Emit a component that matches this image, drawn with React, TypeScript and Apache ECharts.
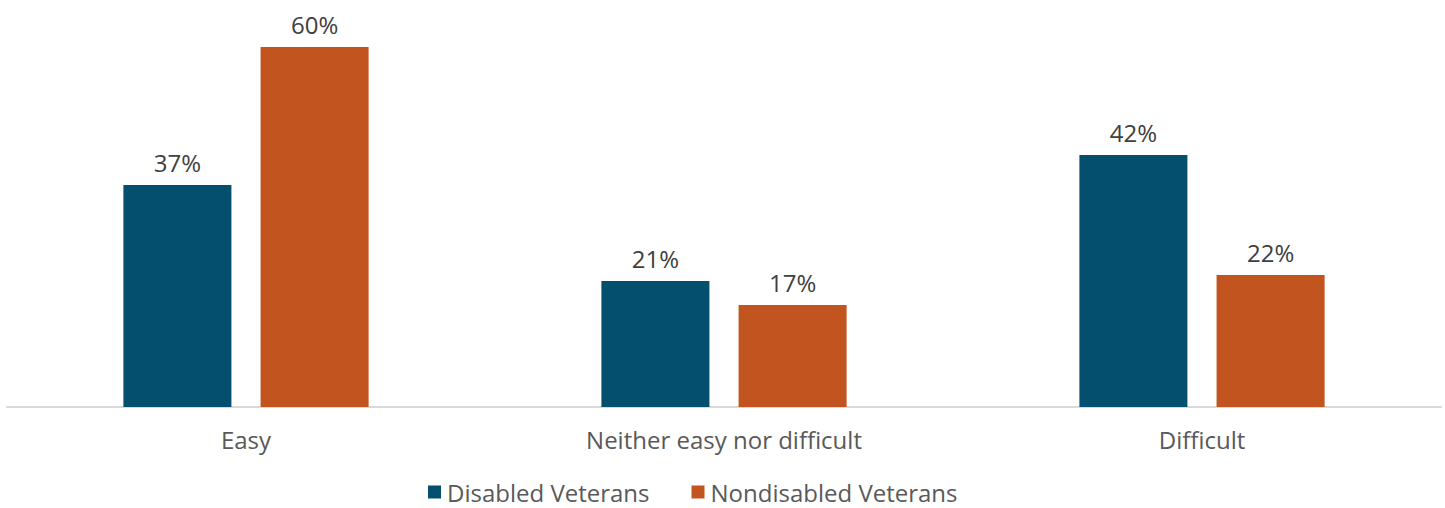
import React, { useEffect, useRef } from "react";
import * as echarts from "echarts";

const categories = ["Easy", "Neither easy nor difficult", "Difficult"];
const disabled = [37, 21, 42];
const nondisabled = [60, 17, 22];
const seriesNames = ["Disabled Veterans", "Nondisabled Veterans"];

const FONT = "Open Sans";

export default function App() {
  const ref = useRef<HTMLDivElement>(null);
  useEffect(() => {
    const chart = echarts.init(ref.current!, null, { renderer: "svg" });
    const label = {
      show: true,
      position: "top",
      distance: 11,
      formatter: "{c}%",
      color: "#404040",
      fontSize: 24,
      fontFamily: FONT,
    };
    chart.setOption({
      animation: false,
      grid: { left: 7, right: 4, top: 47, bottom: 101, containLabel: false },
      legend: {
        top: 479,
        left: 428,
        padding: 0,
        itemWidth: 13,
        itemHeight: 13,
        itemGap: 42,
        icon: "rect",
        textStyle: { color: "#595959", fontSize: 24, lineHeight: 26, fontFamily: FONT, padding: [0, 0, 0, 1] },
      },
      xAxis: {
        type: "category",
        data: categories,
        axisLine: { lineStyle: { color: "#d9d9d9", width: 2 } },
        axisTick: { show: false },
        axisLabel: { color: "#595959", fontSize: 24, fontFamily: FONT, margin: 20 },
      },
      yAxis: {
        type: "value",
        min: 0,
        max: 60,
        show: false,
        splitLine: { show: false },
      },
      series: [
        {
          name: seriesNames[0],
          type: "bar",
          data: disabled,
          itemStyle: { color: "#054F6E" },
          barWidth: "22.6%",
          barGap: "27%",
          label,
        },
        {
          name: seriesNames[1],
          type: "bar",
          data: nondisabled,
          itemStyle: { color: "#C1541F" },
          barWidth: "22.6%",
          barGap: "27%",
          label,
        },
      ],
    });
    return () => chart.dispose();
  }, []);
  return <div ref={ref} style={{ width: 1445, height: 508, position: "absolute", left: 0, top: 0 }} />;
}
